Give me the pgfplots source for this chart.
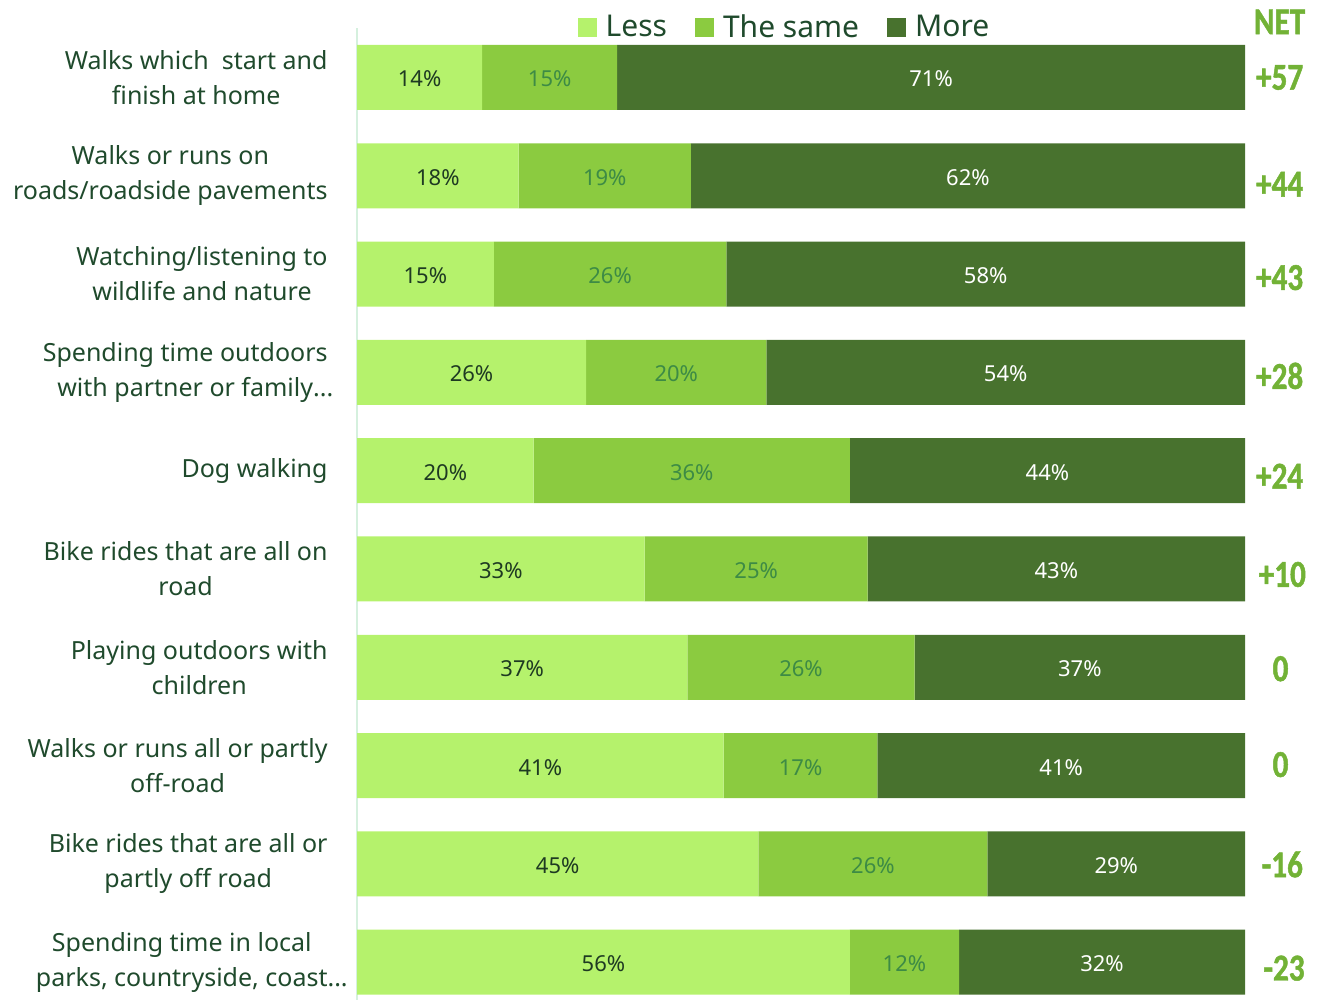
\documentclass[border=0pt]{standalone}
\usepackage{fontspec}
\setmainfont{Noto Sans}
\newfontfamily\netfont[FakeStretch=0.82, FakeBold=1.2]{Carlito Bold}
\usepackage{pgfplots}
\usepackage{pgfplotstable}
\pgfplotsset{compat=1.18}
\definecolor{lessc}{HTML}{B5F26C}
\definecolor{samec}{HTML}{8BCB40}
\definecolor{morec}{HTML}{48722E}
\definecolor{lesst}{HTML}{1E3A22}
\definecolor{samet}{HTML}{3D8B45}
\definecolor{catc}{HTML}{1F4A2C}
\definecolor{netc}{HTML}{72B236}
\definecolor{axisc}{HTML}{D5F0DE}

\pgfplotstableread{
row lessv lessl samev samel morev morel
10 14.1 14 15.2 15 70.7 71
9 18.2 18 19.4 19 62.4 62
8 15.4 15 26.2 26 58.4 58
7 25.8 26 20.3 20 53.9 54
6 19.9 20 35.6 36 44.5 44
5 32.4 33 25.1 25 42.5 43
4 37.2 37 25.6 26 37.2 37
3 41.3 41 17.3 17 41.4 41
2 45.2 45 25.8 26 29.0 29
1 55.5 56 12.3 12 32.2 32
}\data

\pgfplotstableread{
nx ny net
103.9 10.000 +57
103.9 8.914 +44
103.9 7.964 +43
103.9 6.964 +28
103.9 5.944 +24
104.2 4.944 +10
104.0 3.985 0
104.0 3.010 0
104.2 1.995 -16
104.4 0.939 -23
103.9 10.565 NET
}\nettable

\begin{document}
\begin{tikzpicture}[x=1pt,y=1pt]
\path[use as bounding box] (0,0) rectangle (661.5,500);
\pgfplotsset{
  common/.style={
    at={(178.5pt,-0.75pt)}, anchor=south west,
    scale only axis, width=444pt, height=486.6pt,
    xmin=0, xmax=100, ymin=0.6, ymax=10.5, clip=false,
  },
  sq/.style={legend image code/.code={\fill[##1,draw=none] (0pt,-4.75pt) rectangle (9.5pt,4.75pt);}},
  pct/.style={only marks, mark=*, mark size=0pt, draw=none, fill=none,
    nodes near coords={\pgfmathprintnumber{\pgfplotspointmeta}\%}, point meta=explicit,
    /pgf/number format/assume math mode=true,
    every node near coord/.append style={anchor=center, yshift=-0.8pt, text=#1, font=\fontsize{11}{13}\selectfont}},
}
\begin{axis}[
  common,
  xbar stacked, bar width=0.661,
  axis x line=none, axis y line*=left,
  y axis line style={draw=axisc, line width=1.2pt},
  ytick={1,...,10},
  yticklabels={
    {Spending time in local\\parks, countryside, coast\rlap{...}},
    {Bike rides that are all or\\partly off road},
    {Walks or runs all or partly\\off-road},
    {Playing outdoors with\\children},
    {Bike rides that are all on\\road},
    {Dog walking},
    {Spending time outdoors\\with partner or family\rlap{...}},
    {Watching/listening to\\wildlife and nature},
    {Walks or runs on\\roads/roadside pavements},
    {Walks which\ \ start and\\finish at home}},
  major tick length=0pt,
  yticklabel style={font=\fontsize{12.5}{17.5}\selectfont, text=catc, align=center, inner sep=0pt, xshift=-14.5pt},
  legend columns=3,
  legend style={at={(0.4825,1.001)}, anchor=center, draw=none, fill=none,
    font=\fontsize{15}{17}\selectfont, text=catc,
    /tikz/every odd column/.append style={column sep=2.5pt},
    /tikz/every even column/.append style={column sep=12pt}},
]
\addplot[fill=lessc, draw=none, sq] table[x=lessv, y=row]{\data};
\addplot[fill=samec, draw=none, sq] table[x=samev, y=row]{\data};
\addplot[fill=morec, draw=none, sq] table[x=morev, y=row]{\data};
\legend{Less, The same, More}
\end{axis}
\begin{axis}[common, hide axis]
\addplot[pct=lesst] table[x expr=\thisrow{lessv}/2, y=row, meta=lessl]{\data};
\addplot[pct=samet] table[x expr=\thisrow{lessv}+\thisrow{samev}/2, y=row, meta=samel]{\data};
\addplot[pct=white] table[x expr=\thisrow{lessv}+\thisrow{samev}+\thisrow{morev}/2, y=row, meta=morel]{\data};
\addplot[only marks, mark=*, mark size=0pt, draw=none, fill=none,
  nodes near coords, point meta=explicit symbolic,
  every node near coord/.append style={anchor=center, text=netc, font=\netfont\fontsize{19}{21}\selectfont}]
  table[x=nx, y=ny, meta=net]{\nettable};
\end{axis}
\end{tikzpicture}
\end{document}
